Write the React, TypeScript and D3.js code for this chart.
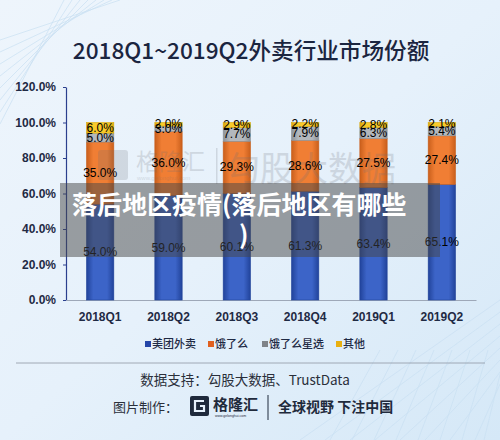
import React, { useEffect, useRef } from "react";
import * as d3 from "d3";

const quarters = ["2018Q1", "2018Q2", "2018Q3", "2018Q4", "2019Q1", "2019Q2"];
const meituan = [54.0, 59.0, 60.1, 61.3, 63.4, 65.1];
const eleme = [35.0, 36.0, 29.3, 28.6, 27.5, 27.4];
const elemeStar = [5.0, 3.0, 7.7, 7.9, 6.3, 5.4];
const others = [6.0, 2.0, 2.9, 2.2, 2.8, 2.1];
const seriesNames = ["美团外卖", "饿了么", "饿了么星选", "其他"];
const yTicks = [0, 20, 40, 60, 80, 100, 120];

const CJK = "'Noto Sans CJK SC', 'Noto Sans', sans-serif";
const NUM = "'Liberation Sans Narrow', 'Liberation Sans', sans-serif";

const App = () => {
  const ref = useRef<SVGSVGElement>(null);

  useEffect(() => {
    const width = 500;
    const height = 440;
    const svg = d3.select(ref.current);
    svg.selectAll("*").remove();
    svg.attr("width", width).attr("height", height);

    const defs = svg.append("defs");
    const bg = defs.append("linearGradient").attr("id", "bg")
      .attr("x1", 0).attr("y1", 0).attr("x2", 1).attr("y2", 1);
    bg.append("stop").attr("offset", 0).attr("stop-color", "#eef5fc");
    bg.append("stop").attr("offset", 0.5).attr("stop-color", "#e6f1fb");
    bg.append("stop").attr("offset", 1).attr("stop-color", "#d5e8f7");

    // bar colours: edge, middle
    const colors = [
      ["#21439a", "#3c64c8"],
      ["#c95f1c", "#f07e34"],
      ["#8c9298", "#b3b8bd"],
      ["#d9a80c", "#f9cb2a"],
    ];
    colors.forEach((c, i) => {
      const g = defs.append("linearGradient").attr("id", "bar" + i)
        .attr("x1", 0).attr("y1", 0).attr("x2", 1).attr("y2", 0);
      g.append("stop").attr("offset", 0).attr("stop-color", c[0]);
      g.append("stop").attr("offset", 0.25).attr("stop-color", c[1]);
      g.append("stop").attr("offset", 0.75).attr("stop-color", c[1]);
      g.append("stop").attr("offset", 1).attr("stop-color", c[0]);
    });
    const legendColors = ["#2546a8", "#e0601f", "#7f8388", "#e9b010"];

    svg.append("rect").attr("width", width).attr("height", height).attr("fill", "url(#bg)");

    // faint decorative lines
    const deco = svg.append("g").attr("stroke", "#c9dff2").attr("stroke-width", 0.7).attr("fill", "none");
    d3.range(8).forEach((i) => {
      deco.append("line").attr("x1", 0).attr("y1", 40 + i * 12).attr("x2", 120 - i * 8).attr("y2", 0);
      deco.append("line").attr("x1", 300 + i * 25).attr("y1", 440).attr("x2", 500).attr("y2", 300 + i * 12);
      deco.append("line").attr("x1", 330 + i * 22).attr("y1", 440).attr("x2", 380 + i * 18).attr("y2", 350);
    });

    // title
    svg.append("text")
      .attr("x", 251).attr("y", 59)
      .attr("text-anchor", "middle")
      .attr("font-family", CJK).attr("font-size", 22.6).attr("font-weight", 500)
      .attr("fill", "#1b2540")
      .text("2018Q1~2019Q2外卖行业市场份额");

    const x = d3.scaleBand().domain(quarters).range([66, 476]).paddingInner(0.6).paddingOuter(0.3);
    const y = d3.scaleLinear().domain([0, 120]).range([300, 87]);

    // y axis
    const yAxis = svg.append("g")
      .attr("transform", "translate(66,0)")
      .call(d3.axisLeft(y).tickValues(yTicks).tickFormat((d) => (+d).toFixed(1) + "%").tickSize(3).tickSizeOuter(0));
    yAxis.select(".domain").attr("stroke", "#2b3f8e").attr("stroke-width", 1.2);
    yAxis.selectAll(".tick line").attr("stroke", "#2b3f8e");
    yAxis.selectAll(".tick text")
      .attr("x", -10)
      .attr("font-family", NUM).attr("font-size", 12).attr("font-weight", "bold")
      .attr("fill", "#1f2a44");

    // x axis
    const xAxis = svg.append("g")
      .attr("transform", "translate(0,300)")
      .call(d3.axisBottom(x).tickSize(0).tickSizeOuter(0));
    xAxis.select(".domain").attr("stroke", "#9ea8b8").attr("stroke-width", 1.2);
    xAxis.selectAll(".tick text")
      .attr("y", 12)
      .attr("font-family", NUM).attr("font-size", 12).attr("font-weight", "bold")
      .attr("fill", "#1f2a44");

    const rows = quarters.map((q, i) => ({
      q, s0: meituan[i], s1: eleme[i], s2: elemeStar[i], s3: others[i],
    }));
    const stacked = d3.stack().keys(["s0", "s1", "s2", "s3"])(rows as any);

    stacked.forEach((layer, li) => {
      svg.append("g").selectAll("rect")
        .data(layer)
        .join("rect")
        .attr("x", (d: any) => x(d.data.q)!)
        .attr("y", (d) => y(d[1]))
        .attr("width", x.bandwidth())
        .attr("height", (d) => y(d[0]) - y(d[1]))
        .attr("fill", `url(#bar${li})`)
        .attr("stroke", colors[li][0])
        .attr("stroke-width", 0.6);
    });

    // watermark
    const wm = svg.append("g").attr("opacity", 0.2).attr("fill", "#6b6f78");
    wm.append("rect").attr("x", 98).attr("y", 150).attr("width", 30).attr("height", 30).attr("rx", 3);
    wm.append("text").attr("x", 136).attr("y", 170)
      .attr("font-family", CJK).attr("font-size", 23).text("格隆汇");
    wm.append("text").attr("x", 137).attr("y", 180)
      .attr("font-family", NUM).attr("font-size", 6).text("www.gelonghui.com");
    wm.append("rect").attr("x", 216).attr("y", 148).attr("width", 1.5).attr("height", 36);
    wm.append("text").attr("x", 226).attr("y", 181)
      .attr("font-family", CJK).attr("font-size", 34).text("勾股大数据");

    // value labels
    stacked.forEach((layer) => {
      svg.append("g").selectAll("text")
        .data(layer)
        .join("text")
        .attr("x", (d: any) => x(d.data.q)! + x.bandwidth() / 2)
        .attr("y", (d) => (y(d[0]) + y(d[1])) / 2 + 4)
        .attr("text-anchor", "middle")
        .attr("font-family", NUM).attr("font-size", 12)
        .attr("fill", "#000")
        .text((d) => (d[1] - d[0]).toFixed(1) + "%");
    });

    // legend
    const legendX = [145, 208, 262, 336];
    const lg = svg.append("g");
    seriesNames.forEach((name, i) => {
      lg.append("rect").attr("x", legendX[i]).attr("y", 341).attr("width", 6).attr("height", 6)
        .attr("fill", legendColors[i]);
      lg.append("text").attr("x", legendX[i] + 7).attr("y", 348)
        .attr("font-family", CJK).attr("font-size", 11).attr("font-weight", 500)
        .attr("fill", "#1f2a44").text(name);
    });

    // footer
    svg.append("line").attr("x1", 16).attr("x2", 485).attr("y1", 363).attr("y2", 363)
      .attr("stroke", "#8f97a3").attr("stroke-width", 0.8);
    svg.append("text").attr("x", 245).attr("y", 385).attr("text-anchor", "middle")
      .attr("font-family", CJK).attr("font-size", 13.5).attr("fill", "#2a2f3a")
      .text("数据支持：勾股大数据、TrustData");
    svg.append("text").attr("x", 113).attr("y", 412)
      .attr("font-family", CJK).attr("font-size", 13).attr("fill", "#2a2f3a")
      .text("图片制作：");
    const logo = svg.append("g");
    logo.append("rect").attr("x", 190).attr("y", 396).attr("width", 19).attr("height", 20).attr("rx", 2)
      .attr("fill", "#1f2a3c");
    logo.append("path").attr("d", "M204,401 L195,401 L195,411 L204,411 L204,406 L200,406")
      .attr("stroke", "#e6f1fb").attr("stroke-width", 2.2).attr("fill", "none");
    logo.append("text").attr("x", 213).attr("y", 410)
      .attr("font-family", CJK).attr("font-size", 15).attr("font-weight", 700).attr("fill", "#1f2a3c")
      .text("格隆汇");
    logo.append("text").attr("x", 215).attr("y", 417)
      .attr("font-family", NUM).attr("font-size", 3.5).attr("fill", "#1f2a3c")
      .text("www.gelonghui.com");
    logo.append("line").attr("x1", 268).attr("x2", 268).attr("y1", 395).attr("y2", 420)
      .attr("stroke", "#1f2a3c").attr("stroke-width", 1);
    logo.append("text").attr("x", 278).attr("y", 412)
      .attr("font-family", CJK).attr("font-size", 14).attr("font-weight", 700).attr("fill", "#1f2a3c")
      .text("全球视野 下注中国");

    // overlay banner
    svg.append("rect").attr("x", 60).attr("y", 183).attr("width", 380).attr("height", 74)
      .attr("fill", "rgba(70,70,70,0.5)");
    svg.append("text").attr("x", 72).attr("y", 214)
      .attr("font-family", CJK).attr("font-size", 25).attr("font-weight", 700).attr("fill", "#fff")
      .text("落后地区疫情(落后地区有哪些");
    svg.append("text").attr("x", 239).attr("y", 244)
      .attr("font-family", CJK).attr("font-size", 25).attr("font-weight", 700).attr("fill", "#fff")
      .text(")");
  }, []);

  return <svg ref={ref} style={{ position: "absolute", left: 0, top: 0, display: "block" }}></svg>;
};

export default App;
